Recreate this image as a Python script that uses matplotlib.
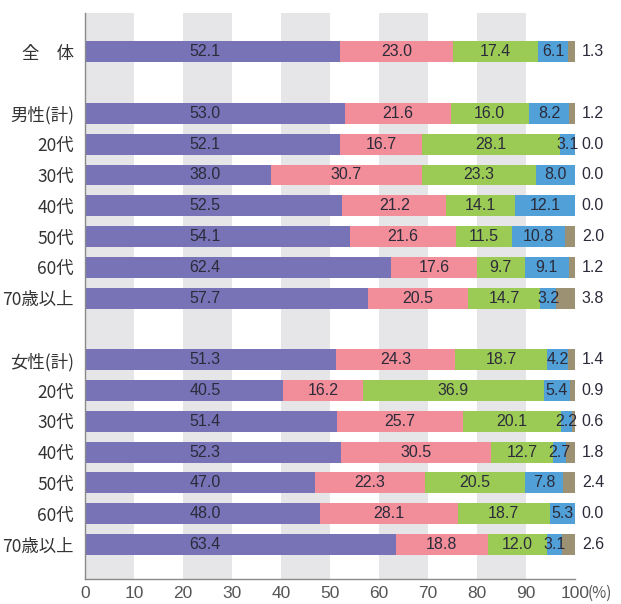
import matplotlib
matplotlib.use("Agg")
import matplotlib.pyplot as plt
import numpy as np

plt.rcParams['font.family'] = ['Liberation Sans', 'Noto Sans CJK JP', 'DejaVu Sans']

categories = ['全\u3000体', '男性(計)', '20代', '30代', '40代', '50代', '60代', '70歳以上',
              '女性(計)', '20代', '30代', '40代', '50代', '60代', '70歳以上']
s1 = [52.1, 53.0, 52.1, 38.0, 52.5, 54.1, 62.4, 57.7, 51.3, 40.5, 51.4, 52.3, 47.0, 48.0, 63.4]
s2 = [23.0, 21.6, 16.7, 30.7, 21.2, 21.6, 17.6, 20.5, 24.3, 16.2, 25.7, 30.5, 22.3, 28.1, 18.8]
s3 = [17.4, 16.0, 28.1, 23.3, 14.1, 11.5, 9.7, 14.7, 18.7, 36.9, 20.1, 12.7, 20.5, 18.7, 12.0]
s4 = [6.1, 8.2, 3.1, 8.0, 12.1, 10.8, 9.1, 3.2, 4.2, 5.4, 2.2, 2.7, 7.8, 5.3, 3.1]
s5 = [1.3, 1.2, 0.0, 0.0, 0.0, 2.0, 1.2, 3.8, 1.4, 0.9, 0.6, 1.8, 2.4, 0.0, 2.6]
xticks = [0, 10, 20, 30, 40, 50, 60, 70, 80, 90, 100]

series = [s1, s2, s3, s4, s5]
colors = ['#7872b6', '#f28d9a', '#9ccb55', '#51a0d8', '#9d9173']

# row positions: gap rows after 全体 and after male group
pos = np.array([0, 2, 3, 4, 5, 6, 7, 8, 10, 11, 12, 13, 14, 15, 16], dtype=float)

fig = plt.figure(figsize=(6.21, 6.04), dpi=100)
ax = fig.add_axes([85 / 621, 25 / 604, 490 / 621, 566 / 604])

# background bands
for x0 in range(0, 100, 20):
    ax.axvspan(x0, x0 + 10, color='#e6e6e8', zorder=0, lw=0)

left = np.zeros(len(pos))
txtc = '#2b2b3a'
for k, (vals, c) in enumerate(zip(series, colors)):
    vals = np.array(vals)
    ax.barh(pos, vals, left=left, height=0.68, color=c, zorder=2, lw=0)
    for i in range(len(pos)):
        v = vals[i]
        if k == 0:
            ax.text(24.5, pos[i], f'{v:.1f}', ha='center', va='center',
                    fontsize=11.5, color=txtc, zorder=3)
        elif k < 4:
            ax.text(left[i] + v / 2, pos[i], f'{v:.1f}', ha='center', va='center',
                    fontsize=11.5, color=txtc, zorder=3)
        else:
            ax.text(101.4, pos[i], f'{v:.1f}', ha='left', va='center',
                    fontsize=11.5, color=txtc, zorder=3)
    left = left + vals

ax.set_xlim(0, 100)
ax.set_ylim(17.12, -1.26)
ax.set_yticks(pos)
ax.set_yticklabels(categories, family=['Noto Sans CJK JP', 'DejaVu Sans'],
                   fontsize=12.5, color='#333333')
ax.set_xticks(xticks)
ax.set_xticklabels([str(t) for t in xticks], fontsize=12.5, color='#555555')
ax.tick_params(axis='both', length=0)
ax.tick_params(axis='y', pad=8)
ax.tick_params(axis='x', pad=5)
for s in ['top', 'right']:
    ax.spines[s].set_visible(False)
for s in ['left', 'bottom']:
    ax.spines[s].set_color('#8a8a8a')
    ax.spines[s].set_linewidth(1.0)
    ax.spines[s].set_zorder(4)

ax.text(102.6, -0.01, '(%)', transform=ax.get_xaxis_transform(), ha='left', va='top',
        fontsize=11, color='#555555', family=['Noto Sans CJK JP', 'DejaVu Sans'])

fig.savefig('out.png', dpi=100)
